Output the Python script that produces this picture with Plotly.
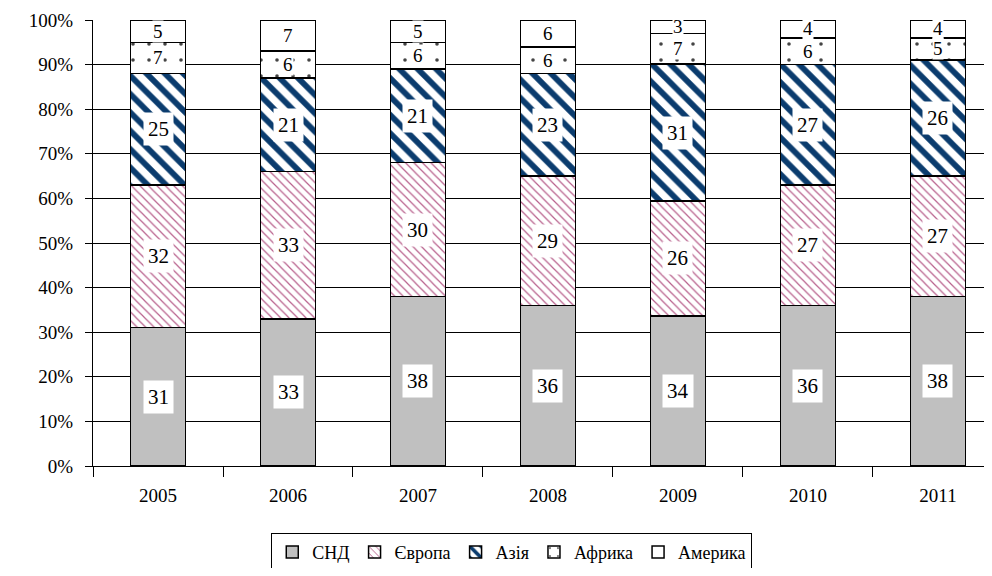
import plotly.graph_objects as go

years = ["2005", "2006", "2007", "2008", "2009", "2010", "2011"]
series_names = ["СНД", "Європа", "Азія", "Африка", "Америка"]
snd = [31, 33, 38, 36, 34, 36, 38]
europe = [32, 33, 30, 29, 26, 27, 27]
asia = [25, 21, 21, 23, 31, 27, 26]
africa = [7, 6, 6, 6, 7, 6, 5]
america = [5, 7, 5, 6, 3, 4, 4]
y_ticks = [0, 10, 20, 30, 40, 50, 60, 70, 80, 90, 100]
y_tick_labels = [f"{v}%" for v in y_ticks]

all_series = [snd, europe, asia, africa, america]

FONT = "Liberation Serif"

styles = [
    dict(color="#c0c0c0"),
    dict(color="white", pattern=dict(shape="\\", fgcolor="#b8608c", bgcolor="white", fgopacity=1, size=6, solidity=0.2)),
    dict(color="white", pattern=dict(shape="\\", fgcolor="#0b3c6e", bgcolor="white", fgopacity=1, size=13, solidity=0.45)),
    dict(color="white", pattern=dict(shape=".", fgcolor="#444444", bgcolor="white", fgopacity=1, size=16, solidity=0.04)),
    dict(color="white"),
]
label_pads = [4, 4, 4, 0, 0]
label_sizes = [21, 21, 21, 19, 19]

fig = go.Figure()
for name, vals, st in zip(series_names, all_series, styles):
    fig.add_trace(go.Bar(
        x=years, y=vals, name=name,
        marker=dict(line=dict(color="black", width=1.5), **st),
        width=0.42,
        hoverinfo="skip",
    ))

# data labels via annotations at normalized midpoints (x given as category index)
for i, yr in enumerate(years):
    total = sum(s[i] for s in all_series)
    cum = 0.0
    for k, s in enumerate(all_series):
        v = s[i] / total * 100
        mid = cum + v / 2
        cum += v
        fig.add_annotation(
            x=i, y=mid, xref="x", yref="y", text=str(s[i]),
            showarrow=False, bgcolor="white", borderpad=label_pads[k],
            font=dict(family=FONT, size=label_sizes[k], color="black"),
        )

# page body has an 8px margin: figure is sized to fit inside the window
fig.update_layout(
    barmode="stack",
    barnorm="percent",
    width=976, height=560,
    margin=dict(l=85, r=0, t=12, b=102, autoexpand=False),
    paper_bgcolor="white", plot_bgcolor="white",
    font=dict(family=FONT, size=19, color="black"),
    showlegend=True,
    legend=dict(
        orientation="h", x=0.47, xanchor="center", y=-0.15, yanchor="top",
        bordercolor="black", borderwidth=1, bgcolor="white",
        font=dict(family=FONT, size=18), traceorder="normal",
        itemwidth=30,
    ),
    xaxis=dict(
        type="category", range=[-0.5, 6.354],
        showline=True, linecolor="black", linewidth=1,
        ticks="outside", tickson="boundaries", ticklen=10, tickcolor="black",
        showgrid=False, tickfont=dict(family=FONT, size=19),
        ticklabelstandoff=12,
    ),
    yaxis=dict(
        range=[0, 100], tickvals=y_ticks, ticktext=y_tick_labels,
        showline=True, linecolor="black", linewidth=1,
        ticks="outside", ticklen=7, tickcolor="black",
        showgrid=True, gridcolor="black", gridwidth=1,
        zeroline=False, tickfont=dict(family=FONT, size=19),
        ticklabelstandoff=8,
    ),
)

fig.write_html("out.html")
